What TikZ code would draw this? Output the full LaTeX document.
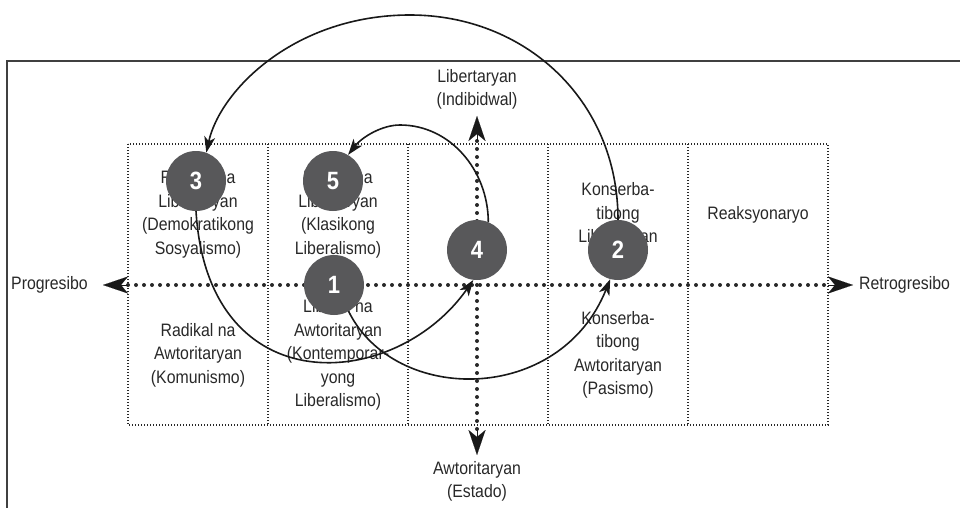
\documentclass[tikz,border=0pt]{standalone}
\usepackage{fontspec}
\setmainfont{Liberation Sans}[FakeStretch=0.88]
\usetikzlibrary{arrows.meta}
\definecolor{circfill}{RGB}{88,88,90}
\definecolor{ink}{RGB}{40,40,40}
\tikzset{axtip/.tip={Stealth[length=25pt,width=17pt,inset=7pt]},
  flowtip/.tip={Stealth[length=16pt,width=11pt,inset=4.5pt]}}
\begin{document}
\begin{tikzpicture}[x=1pt,y=-1pt,
  celltext/.style={align=center, font=\fontsize{18}{23.5}\selectfont, text=ink, inner sep=0pt},
  axislabel/.style={align=center, font=\fontsize{18}{23}\selectfont, text=ink, inner sep=0pt},
  framestyle/.style={draw=black!75, line width=1.4pt},
  griddot/.style={draw=ink, line width=1.2pt, dash pattern=on 1.2pt off 1.8pt},
  axisdot/.style={draw=ink, line width=4pt, line cap=round, dash pattern=on 0pt off 8pt},
  axarrow/.style={draw=black!90, fill=black!90, line width=0.1pt, -axtip},
  numcirc/.style={circle, fill=circfill, minimum size=60pt, inner sep=0pt, text=white, font=\fontsize{25}{25}\selectfont\bfseries},
  flow/.style={draw=black!90, line width=1.6pt, -flowtip}]
\useasboundingbox (0,0) rectangle (960,508);
% frame
\draw[framestyle] (960,61) -- (7,61) -- (7,508);
% grid
\draw[griddot] (128,144) rectangle (828,425);
\foreach \gx in {268,408,548,688} \draw[griddot] (\gx,144) -- (\gx,425);
% cell texts
\node[celltext] (t11) at (198,214.5) {Radikal na\\Libertaryan\\(Demokratikong\\Sosyalismo)};
\node[celltext] (t12) at (338,214.5) {Liberal na\\Libertaryan\\(Klasikong\\Liberalismo)};
\node[celltext] (t14) at (618,214.5) {Konserba-\\tibong\\Libertaryan};
\node[celltext] (t15) at (758,214.5) {Reaksyonaryo};
\node[celltext] (t21) at (198,355) {Radikal na\\Awtoritaryan\\(Komunismo)};
\node[celltext] (t22) at (338,355) {Liberal na\\Awtoritaryan\\(Kontemporar-\\yong\\Liberalismo)};
\node[celltext] (t24) at (618,355) {Konserba-\\tibong\\Awtoritaryan\\(Pasismo)};
% axis labels
\node[axislabel, anchor=west] (prog) at (11,285) {Progresibo};
\node[axislabel, anchor=west] (retro) at (859,285) {Retrogresibo};
\node[axislabel] (lib) at (477,89) {Libertaryan\\(Indibidwal)};
\node[axislabel] (awt) at (477,481) {Awtoritaryan\\(Estado)};
% axes
\coordinate (tipL) at (103,285);
\coordinate (tipR) at (853,285);
\coordinate (tipT) at (477,116);
\coordinate (tipB) at (477,455);
\coordinate (axL) at (128,285);
\coordinate (axR) at (828,285);
\coordinate (axT) at (477,141);
\coordinate (axB) at (477,430);
\draw[axisdot] (axL) -- (axR);
\draw[axisdot] (axT) -- (axB);
\draw[axarrow] (axL) -- (tipL);
\draw[axarrow] (axR) -- (tipR);
\draw[axarrow] (axT) -- (tipT);
\draw[axarrow] (axB) -- (tipB);
% numbered circles
\node[numcirc] (c3) at (196,181) {3};
\node[numcirc] (c5) at (333,181) {5};
\node[numcirc] (c1) at (334,285) {1};
\node[numcirc] (c4) at (477,250) {4};
\node[numcirc] (c2) at (618,250) {2};
% connectors
\draw[flow] (c2.north) .. controls (618,100) and (525,15) .. (410,15)
  .. controls (295,15) and (220,90) .. (c3.70);
\draw[flow] (c3.south) .. controls (208,405) and (395,392) .. (c4.263);
\draw[flow] (c1.-61) .. controls (395,405) and (560,405) .. (c2.255);
\draw[flow] (c4.68) .. controls (488,170) and (450,125) .. (400,125)
  .. controls (382,125) and (362,137) .. (c5.60);
\end{tikzpicture}
\end{document}
